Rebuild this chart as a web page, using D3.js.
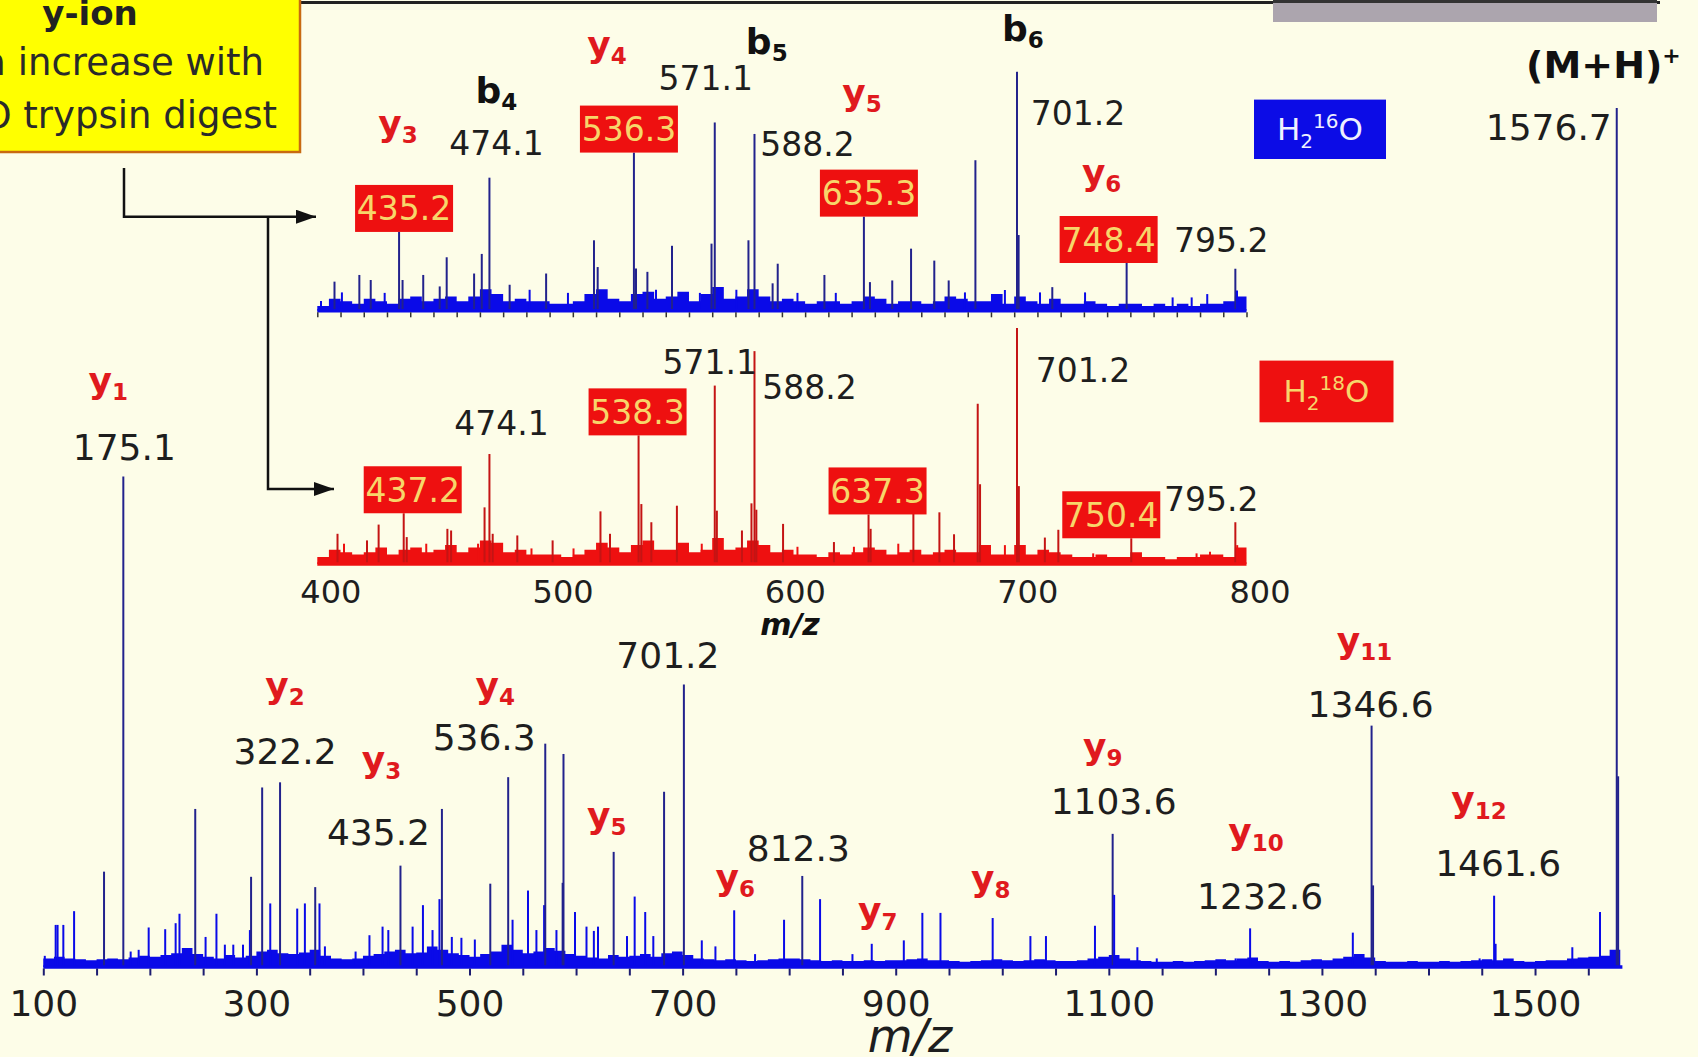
<!DOCTYPE html>
<html>
<head>
<meta charset="utf-8">
<script src="https://cdn.jsdelivr.net/npm/d3@7"></script>
<style>
  html, body { margin: 0; padding: 0; background: #fdfde8; overflow: hidden; }
  svg { display: block; }
  text { font-family: "DejaVu Sans", "Liberation Sans", sans-serif; }
</style>
</head>
<body>
<svg id="chart" width="1698" height="1057"></svg>
<script>
// ---------- MS/MS spectrum data (m/z, relative intensity) ----------

// Full-range spectrum, H2(16)O digest: labelled and unlabelled peaks
const mainPeaks = [
  [101.4,1.3],[111.6,4.9],[113.4,4.9],[118.8,4.9],[128.9,6.5],[157.0,11.1],[175.1,57.1],
  [182.0,1.8],[189.5,2.0],[198.9,4.6],[214.4,4.4],[224.2,5.1],[227.8,6.2],[242.6,18.4],
  [252.3,3.5],[262.5,6.2],[270.4,2.6],[278.3,2.6],[287.4,2.6],[293.9,4.3],[295.0,10.5],
  [305.4,20.9],[313.0,7.4],[322.2,21.5],[338.3,6.8],[345.5,7.4],[355.2,9.3],[359.2,7.4],
  [364.3,2.4],[393.1,1.8],[406.1,3.7],[418.4,4.7],[423.8,4.3],[435.2,11.8],[446.6,4.7],
  [456.3,7.2],[465.3,4.3],[471.8,7.9],[474.1,18.4],[483.4,3.5],[492.4,3.4],[505.0,3.2],
  [519.5,9.7],[536.3,22.1],[540.4,5.5],[554.9,8.9],[562.8,4.3],[570.0,7.2],[571.1,26.0],
  [581.6,4.3],[587.4,9.8],[588.2,24.8],[599.0,6.4],[609.8,4.7],[616.7,4.2],[620.6,4.7],
  [635.3,13.4],[647.8,3.6],[655.0,8.2],[664.9,6.4],[672.5,3.6],[682.6,20.4],[701.2,32.9],
  [718.0,3.1],[730.8,2.4],[748.4,6.6],[768.0,1.5],[795.2,5.5],[812.3,10.6],[829.0,7.9],
  [859.4,1.5],[877.5,2.7],[907.6,3.1],[925.0,6.3],[942.0,6.3],[991.0,5.7],[1026.4,3.6],
  [1041.0,3.6],[1087.0,4.8],[1103.6,15.5],[1105.0,8.4],[1126.8,2.3],[1145.0,1.0],
  [1219.0,1.0],[1232.6,4.5],[1329.0,4.0],[1346.6,28.1],[1348.0,9.5],[1448.0,1.0],
  [1461.6,8.3],[1463.0,2.7],[1535.0,2.3],[1561.0,6.4],[1576.7,100],[1578.0,22.2]
];

// Full-range spectrum: chemical noise floor
const mainBase = [
  [100,1.0],[110,1.2],[120,1.0],[130,0.9],[140,0.8],[150,0.9],[160,1.0],[170,0.9],[180,1.1],[190,1.3],
  [200,1.2],[210,1.4],[220,1.6],[230,2.2],[240,1.5],[250,1.2],[260,1.0],[270,1.4],[280,1.1],[290,1.3],
  [300,1.8],[310,2.0],[320,1.6],[330,1.5],[340,1.7],[350,2.0],[360,1.3],[370,1.0],[380,0.9],[390,1.0],
  [400,1.3],[410,1.5],[420,1.8],[430,2.0],[440,1.6],[450,1.7],[460,2.4],[470,2.0],[480,1.6],[490,1.4],
  [500,1.2],[510,1.5],[520,1.8],[530,2.6],[540,2.0],[550,1.6],[560,1.8],[570,2.2],[580,1.9],[590,1.5],
  [600,1.3],[610,1.1],[620,1.0],[630,1.4],[640,1.2],[650,1.3],[660,1.5],[670,1.2],[680,1.6],[690,1.8],
  [700,1.4],[710,1.0],[720,0.9],[730,0.8],[740,0.9],[750,0.8],[760,0.7],[770,0.8],[780,0.9],[790,1.0],
  [800,1.0],[810,0.9],[820,0.8],[830,0.7],[840,0.8],[850,0.7],[860,0.7],[870,0.8],[880,0.7],[890,0.8],
  [900,0.8],[910,0.9],[920,1.0],[930,0.8],[940,0.8],[950,0.7],[960,0.6],[970,0.7],[980,0.8],[990,0.9],
  [1000,0.8],[1010,0.7],[1020,0.8],[1030,0.9],[1040,0.8],[1050,0.7],[1060,0.7],[1070,0.8],[1080,1.0],[1090,1.2],
  [1100,1.4],[1110,1.0],[1120,0.8],[1130,0.7],[1140,0.6],[1150,0.6],[1160,0.7],[1170,0.6],[1180,0.7],[1190,0.8],
  [1200,0.9],[1210,0.8],[1220,1.0],[1230,1.1],[1240,0.7],[1250,0.6],[1260,0.7],[1270,0.6],[1280,0.8],[1290,0.9],
  [1300,0.8],[1310,1.0],[1320,1.2],[1330,1.5],[1340,1.1],[1350,0.7],[1360,0.6],[1370,0.6],[1380,0.7],[1390,0.6],
  [1400,0.6],[1410,0.7],[1420,0.6],[1430,0.7],[1440,0.8],[1450,0.9],[1460,0.8],[1470,1.0],[1480,0.7],[1490,0.6],
  [1500,0.7],[1510,0.8],[1520,0.8],[1530,1.0],[1540,1.1],[1550,1.2],[1560,1.3],[1570,2.0],[1580,1.8]
];

// Zoomed 400-800 window, H2(16)O digest
const bluePeaks = [
  [401.6,4.1],[407.4,12.2],[410.6,7.7],[418.1,15.0],[423.0,12.9],[429.0,7.5],[435.2,33.0],
  [436.7,12.9],[445.6,15.0],[452.7,10.2],[455.7,22.4],[467.5,15.6],[470.8,23.8],[474.1,55.7],
  [482.8,10.9],[491.4,8.8],[498.5,15.6],[507.9,7.5],[519.1,29.5],[520.7,18.3],[536.3,66.2],
  [537.2,17.7],[542.1,16.3],[545.8,8.8],[552.7,27.2],[564.7,7.5],[569.7,28.1],[571.1,78.8],
  [580.4,8.8],[585.6,29.5],[588.2,74.0],[596.0,11.5],[598.2,19.7],[606.7,7.5],[618.3,15.0],
  [623.2,7.5],[635.3,39.4],[637.9,12.0],[647.5,12.7],[655.6,26.0],[665.6,21.0],[671.8,12.7],
  [678.8,7.7],[683.3,63.0],[696.0,8.7],[701.2,100],[701.9,31.7],[711.1,7.7],[716.4,9.9],
  [730.5,7.7],[748.4,20.0],[768.2,5.6],[776.4,5.6],[783.1,7.0],[795.2,17.6],[795.9,8.5]
];
const blueBase = [
  [400,2],[405,5],[410,4],[415,3],[420,5],[425,4],[430,3],[435,5],[440,6],[445,4],
  [450,5],[455,6],[460,4],[465,6],[470,9],[475,7],[480,4],[485,5],[490,4],[495,4],
  [500,3],[505,3],[510,4],[515,7],[520,9],[525,5],[530,4],[535,7],[540,8],[545,5],
  [550,6],[555,8],[560,4],[565,7],[570,10],[575,5],[580,6],[585,9],[590,6],[595,4],
  [600,5],[605,4],[610,3],[615,4],[620,4],[625,3],[630,4],[635,6],[640,5],[645,3],
  [650,4],[655,4],[660,3],[665,4],[670,6],[675,5],[680,4],[685,4],[690,7],[695,3],
  [700,6],[705,4],[710,3],[715,5],[720,3],[725,3],[730,4],[735,3],[740,2],[745,3],
  [750,3],[755,2],[760,3],[765,2],[770,3],[775,2],[780,3],[785,3],[790,4],[795,6],[800,2]
];

// Zoomed 400-800 window, H2(18)O digest
const redPeaks = [
  [408.7,12.8],[411.5,8.6],[421.4,10.0],[426.4,16.7],[437.2,21.5],[438.5,11.4],[446.9,8.6],
  [456.0,14.9],[457.6,14.2],[469.2,8.6],[472.0,24.0],[474.1,46.6],[475.5,12.8],[486.1,12.1],
  [492.2,6.6],[501.3,10.0],[510.3,6.6],[521.9,22.3],[526.0,12.8],[538.3,54.5],[539.5,25.4],
  [543.8,17.7],[554.8,24.7],[565.5,8.6],[571.1,75.6],[572.0,22.6],[582.8,14.2],[586.9,25.7],
  [588.2,90.2],[589.0,23.0],[600.5,17.0],[606.7,7.3],[622.4,9.3],[631.0,7.3],[637.3,21.0],
  [638.2,14.9],[650.1,8.6],[656.6,21.9],[667.8,21.9],[674.1,12.6],[684.3,67.9],[685.3,33.8],
  [696.0,8.0],[701.2,100],[702.0,33.0],[713.2,11.2],[719.0,14.5],[734.0,4.5],[750.4,10.9],
  [778.5,4.5],[784.3,5.2],[795.2,17.7],[796.0,8.0]
];
const redBase = [
  [400,3],[405,6],[410,5],[415,4],[420,5],[425,7],[430,4],[435,6],[440,7],[445,5],
  [450,6],[455,8],[460,5],[465,7],[470,10],[475,9],[480,5],[485,6],[490,4],[495,4],
  [500,4],[505,3],[510,4],[515,6],[520,9],[525,7],[530,5],[535,8],[540,10],[545,6],
  [550,6],[555,9],[560,5],[565,6],[570,11],[575,6],[580,7],[585,10],[590,8],[595,5],
  [600,6],[605,4],[610,4],[615,3],[620,5],[625,4],[630,5],[635,7],[640,6],[645,4],
  [650,5],[655,6],[660,4],[665,5],[670,6],[675,5],[680,5],[685,8],[690,4],[695,4],
  [700,8],[705,4],[710,6],[715,5],[720,4],[725,3],[730,3],[735,4],[740,3],[745,3],
  [750,5],[755,3],[760,3],[765,2],[770,3],[775,3],[780,4],[785,4],[790,3],[795,7],[800,4]
];

// Axis ticks and labels
const mainTickValues = [100,150,200,250,300,350,400,450,500,550,600,650,700,750,800,850,
  900,950,1000,1050,1100,1150,1200,1250,1300,1350,1400,1450,1500,1550];
const mainTickLabels = [100,300,500,700,900,1100,1300,1500];
const insetTickLabels = [400,500,600,700,800];
const insetMinorTicks = [400,410,420,430,440,450,460,470,480,490,500,510,520,530,540,550,560,570,
  580,590,600,610,620,630,640,650,660,670,680,690,700,710,720,730,740,750,760,770,780,790,800];

// Peak annotations: ion series + measured m/z
const mainAnnotations = [
  {mz:175.1, value:"175.1", ion:"y", sub:"1"},
  {mz:322.2, value:"322.2", ion:"y", sub:"2"},
  {mz:435.2, value:"435.2", ion:"y", sub:"3"},
  {mz:536.3, value:"536.3", ion:"y", sub:"4"},
  {mz:635.3, value:null,    ion:"y", sub:"5"},
  {mz:701.2, value:"701.2", ion:null},
  {mz:748.4, value:null,    ion:"y", sub:"6"},
  {mz:812.3, value:"812.3", ion:null},
  {mz:877.5, value:null,    ion:"y", sub:"7"},
  {mz:991.0, value:null,    ion:"y", sub:"8"},
  {mz:1103.6, value:"1103.6", ion:"y", sub:"9"},
  {mz:1232.6, value:"1232.6", ion:"y", sub:"10"},
  {mz:1346.6, value:"1346.6", ion:"y", sub:"11"},
  {mz:1461.6, value:"1461.6", ion:"y", sub:"12"},
  {mz:1576.7, value:"1576.7", ion:null}
];
const blueAnnotations = [
  {mz:435.2, value:"435.2", ion:"y", sub:"3", boxed:true},
  {mz:474.1, value:"474.1", ion:"b", sub:"4"},
  {mz:536.3, value:"536.3", ion:"y", sub:"4", boxed:true},
  {mz:571.1, value:"571.1", ion:"b", sub:"5"},
  {mz:588.2, value:"588.2"},
  {mz:635.3, value:"635.3", ion:"y", sub:"5", boxed:true},
  {mz:701.2, value:"701.2", ion:"b", sub:"6"},
  {mz:748.4, value:"748.4", ion:"y", sub:"6", boxed:true},
  {mz:795.2, value:"795.2"}
];
const redAnnotations = [
  {mz:437.2, value:"437.2", boxed:true},
  {mz:474.1, value:"474.1"},
  {mz:538.3, value:"538.3", boxed:true},
  {mz:571.1, value:"571.1"},
  {mz:588.2, value:"588.2"},
  {mz:637.3, value:"637.3", boxed:true},
  {mz:701.2, value:"701.2"},
  {mz:750.4, value:"750.4", boxed:true},
  {mz:795.2, value:"795.2"}
];

// ---------- drawing ----------
const W = 1698, H = 1057;
const svg = d3.select("#chart");
svg.append("rect").attr("width", W).attr("height", H).attr("fill", "#fdfde8");

const xMain = d3.scaleLinear().domain([100, 1582]).range([43.3, 1622.4]);
const yMain = d3.scaleLinear().domain([0, 100]).range([967, 108]);
const xIn = d3.scaleLinear().domain([400, 800]).range([317.3, 1246.5]);
const yBlue = d3.scaleLinear().domain([0, 100]).range([310.8, 71.8]);
const yRed = d3.scaleLinear().domain([0, 100]).range([564, 328]);

const C = {
  navy: "#22228c", blue: "#0a0ae8", red: "#ee1010", darkRed: "#c41414",
  ion: "#e01a1e", text: "#1e1e1e", boxText: "#f7d66a"
};

// slide header remnants
svg.append("line").attr("x1", 300).attr("x2", 1660).attr("y1", 2.5).attr("y2", 2.5)
  .attr("stroke", "#222").attr("stroke-width", 3);
svg.append("rect").attr("x", 1273).attr("y", 0).attr("width", 384).attr("height", 22)
  .attr("fill", "#aca5ae");
svg.append("line").attr("x1", 1273).attr("x2", 1657).attr("y1", 1.5).attr("y2", 1.5)
  .attr("stroke", "#333").attr("stroke-width", 3);

// callout box
svg.append("rect").attr("x", -4).attr("y", -4).attr("width", 304).attr("height", 156)
  .attr("fill", "#ffff00").attr("stroke", "#c86a10").attr("stroke-width", 2.5);
svg.append("text").attr("x", 90).attr("y", 25).attr("text-anchor", "middle")
  .attr("font-size", 34).attr("font-weight", "bold").attr("fill", "#222").text("y-ion");
svg.append("text").attr("x", 264).attr("y", 75).attr("text-anchor", "end")
  .attr("font-size", 37).attr("fill", "#2a2a2a").text("2 Da increase with");
const l3 = svg.append("text").attr("x", 277).attr("y", 128).attr("text-anchor", "end")
  .attr("font-size", 37).attr("fill", "#2a2a2a");
l3.append("tspan").text("H");
l3.append("tspan").attr("font-size", 24).attr("dy", 8).text("2");
l3.append("tspan").attr("font-size", 24).attr("dy", -22).text("18");
l3.append("tspan").attr("dy", 14).text("O trypsin digest");

// arrows from the callout to the two zoom panels
const defs = svg.append("defs");
defs.append("marker").attr("id", "arrowHead").attr("viewBox", "0 0 10 10")
  .attr("refX", 10).attr("refY", 5).attr("markerUnits", "userSpaceOnUse")
  .attr("markerWidth", 20).attr("markerHeight", 14).attr("orient", "auto")
  .attr("preserveAspectRatio", "none")
  .append("path").attr("d", "M0,0 L10,5 L0,10 Z").attr("fill", "#111");
svg.append("path").attr("d", "M124,168 V216.7 H316").attr("fill", "none")
  .attr("stroke", "#111").attr("stroke-width", 2.5).attr("marker-end", "url(#arrowHead)");
svg.append("path").attr("d", "M268,216.7 V489 H334").attr("fill", "none")
  .attr("stroke", "#111").attr("stroke-width", 2.5).attr("marker-end", "url(#arrowHead)");

// generic spectrum renderer: noise floor area + centroid sticks + baseline
function drawSpectrum(base, peaks, x, y, fillColor, stickColor, lineW) {
  const g = svg.append("g");
  const area = d3.area().x(d => x(d[0])).y0(y(0)).y1(d => y(d[1])).curve(d3.curveStepAfter);
  g.append("path").datum(base).attr("d", area).attr("fill", fillColor);
  g.selectAll("line.stick").data(peaks).join("line").attr("class", "stick")
    .attr("x1", d => x(d[0])).attr("x2", d => x(d[0]))
    .attr("y1", y(0)).attr("y2", d => y(d[1]))
    .attr("stroke", d => d[1] < 9 ? fillColor : stickColor)
    .attr("stroke-width", lineW);
  g.append("line").attr("x1", x(x.domain()[0])).attr("x2", x(x.domain()[1]))
    .attr("y1", y(0)).attr("y2", y(0)).attr("stroke", fillColor).attr("stroke-width", 3.5);
  return g;
}
const peakH = (peaks, mz) => peaks.find(p => Math.abs(p[0] - mz) < 0.05)[1];

function ionLabel(cx, cy, ion, sub) {
  const t = svg.append("text").attr("x", cx).attr("y", cy + 8).attr("text-anchor", "middle")
    .attr("font-weight", "bold").attr("fill", ion === "y" ? C.ion : "#111");
  t.append("tspan").attr("font-size", 36).text(ion);
  t.append("tspan").attr("font-size", 23).attr("dy", 7).text(sub);
}
function numLabel(cx, cy, txt, size, anchor) {
  svg.append("text").attr("x", cx).attr("y", cy + size * 0.36)
    .attr("text-anchor", anchor || "middle").attr("font-size", size)
    .attr("fill", C.text).text(txt);
}
function boxLabel(cx, bottom, txt) {
  const bw = 98, bh = 47;
  svg.append("rect").attr("x", cx - bw / 2).attr("y", bottom - bh).attr("width", bw).attr("height", bh)
    .attr("fill", C.red);
  svg.append("text").attr("x", cx).attr("y", bottom - bh / 2 + 12).attr("text-anchor", "middle")
    .attr("font-size", 33).attr("fill", C.boxText).text(txt);
  return bottom - bh / 2;
}

// ----- main full-range spectrum -----
drawSpectrum(mainBase, mainPeaks, xMain, yMain, C.blue, C.navy, 2);

const mainAxis = d3.axisBottom(xMain).tickValues(mainTickValues).tickSize(7)
  .tickFormat(d => mainTickLabels.includes(d) ? d : "");
const gMainAxis = svg.append("g").attr("transform", `translate(0,${yMain(0) + 1.5})`).call(mainAxis);
gMainAxis.select(".domain").remove();
gMainAxis.selectAll(".tick line").attr("stroke", "#1c1c70").attr("stroke-width", 2);
gMainAxis.selectAll(".tick text").attr("y", 35).attr("dy", "0.35em")
  .attr("font-size", 36).attr("fill", C.text).attr("font-family", "DejaVu Sans");
svg.append("text").attr("x", 910).attr("y", 1052).attr("text-anchor", "middle")
  .attr("font-size", 46).attr("font-style", "italic").attr("fill", C.text).text("m/z");

// label placement for the full-range annotations (offsets from stick tip)
const mainPlace = {
  "175.1": {n: [1, -29], i: [-15, -92]},
  "322.2": {n: [5, -31], i: [5, -92]},
  "435.2": {n: [-22, -34], i: [-19, -102]},
  "536.3": {n: [-24, -40], i: [-13, -87]},
  "635.3": {i: [-7, -32]},
  "701.2": {n: [-16, -29]},
  "748.4": {i: [1, -28]},
  "812.3": {n: [-4, -28]},
  "877.5": {i: [6, -29]},
  "991":   {i: [-2, -35]},
  "1103.6": {n: [1, -33], i: [-10, -83]},
  "1232.6": {n: [10, -32], i: [6, -92]},
  "1346.6": {n: [-1, -22], i: [-7, -81]},
  "1461.6": {n: [4, -33], i: [-15, -92]},
  "1576.7": {n: [-5, 19]}
};
mainAnnotations.forEach(a => {
  const px = xMain(a.mz), top = yMain(peakH(mainPeaks, a.mz));
  const p = mainPlace[String(a.mz)];
  if (a.value && a.mz !== 1576.7) numLabel(px + p.n[0], top + p.n[1], a.value, 36);
  if (a.ion) ionLabel(px + p.i[0], top + p.i[1], a.ion, a.sub);
  if (a.mz === 1576.7) {
    numLabel(px + p.n[0], top + p.n[1], a.value, 36, "end");
    const t = svg.append("text").attr("x", px + 64).attr("y", top - 43 + 13)
      .attr("text-anchor", "end").attr("font-weight", "bold").attr("fill", "#111");
    t.append("tspan").attr("font-size", 38).text("(M+H)");
    t.append("tspan").attr("font-size", 22).attr("dy", -15).text("+");
  }
});

// ----- zoomed H2(16)O panel -----
drawSpectrum(blueBase, bluePeaks, xIn, yBlue, C.blue, C.navy, 2);
const gBlueTicks = svg.append("g").attr("transform", `translate(0,${yBlue(0) + 1.5})`)
  .call(d3.axisBottom(xIn).tickValues(insetMinorTicks).tickSize(5).tickFormat(""));
gBlueTicks.select(".domain").remove();
gBlueTicks.selectAll(".tick line").attr("stroke", "#333").attr("stroke-width", 1.5);

const bluePlace = {
  "435.2": {box: 5, i: [-6, -80]},
  "474.1": {n: [7, -35], i: [7, -83]},
  "536.3": {box: -5, i: [-22, -80]},
  "571.1": {n: [-9, -44], i: [52, -76]},
  "588.2": {n: [53, 10]},
  "635.3": {box: 5, i: [-7, -96]},
  "701.2": {n: [61, 41], i: [6, -39]},
  "748.4": {box: -18, i: [-7, -63]},
  "795.2": {n: [-14, -29]}
};
function annotateInset(list, peaks, yS, place) {
  list.forEach(a => {
    const px = xIn(a.mz), top = yS(peakH(peaks, a.mz));
    const p = place[String(a.mz)];
    if (a.boxed) {
      const cx = px + p.box;
      const cy = boxLabel(cx, top, a.value);
      if (a.ion) ionLabel(cx + p.i[0], cy + p.i[1], a.ion, a.sub);
    } else {
      numLabel(px + p.n[0], top + p.n[1], a.value, 33);
      if (a.ion) ionLabel(px + p.i[0], top + p.i[1], a.ion, a.sub);
    }
  });
}
annotateInset(blueAnnotations, bluePeaks, yBlue, bluePlace);

// legend tag H2(16)O
function formulaTag(x0, y0, w, h, fill, color, iso) {
  svg.append("rect").attr("x", x0).attr("y", y0).attr("width", w).attr("height", h).attr("fill", fill);
  const t = svg.append("text").attr("x", x0 + w / 2).attr("y", y0 + h / 2 + 11)
    .attr("text-anchor", "middle").attr("fill", color).attr("font-size", 31);
  t.append("tspan").text("H");
  t.append("tspan").attr("font-size", 20).attr("dy", 8).text("2");
  t.append("tspan").attr("font-size", 20).attr("dy", -20).text(iso);
  t.append("tspan").attr("dy", 12).text("O");
}
formulaTag(1254, 99.6, 132, 59.4, "#0c0ce6", "#eef0ff", "16");

// ----- zoomed H2(18)O panel -----
drawSpectrum(redBase, redPeaks, xIn, yRed, C.red, C.darkRed, 2);
const gRedAxis = svg.append("g").attr("transform", `translate(0,${yRed(0)})`)
  .call(d3.axisBottom(xIn).tickValues(insetTickLabels).tickSize(0).tickFormat(d => d));
gRedAxis.select(".domain").remove();
gRedAxis.selectAll(".tick text").attr("y", 28).attr("dy", "0.35em").attr("dx", 13)
  .attr("font-size", 32).attr("fill", C.text).attr("font-family", "DejaVu Sans");
svg.append("text").attr("x", 790).attr("y", 635).attr("text-anchor", "middle")
  .attr("font-size", 30).attr("font-weight", "bold").attr("font-style", "italic")
  .attr("fill", "#111").text("m/z");

const redPlace = {
  "437.2": {box: 9},
  "474.1": {n: [12, -31]},
  "538.3": {box: -1},
  "571.1": {n: [-5, -23]},
  "588.2": {n: [55, 36]},
  "637.3": {box: 9},
  "701.2": {n: [66, 42]},
  "750.4": {box: -20},
  "795.2": {n: [-24, -23]}
};
annotateInset(redAnnotations, redPeaks, yRed, redPlace);
formulaTag(1259.5, 360.6, 134, 61.7, "#ee1010", "#f7d66a", "18");
</script>
</body>
</html>
